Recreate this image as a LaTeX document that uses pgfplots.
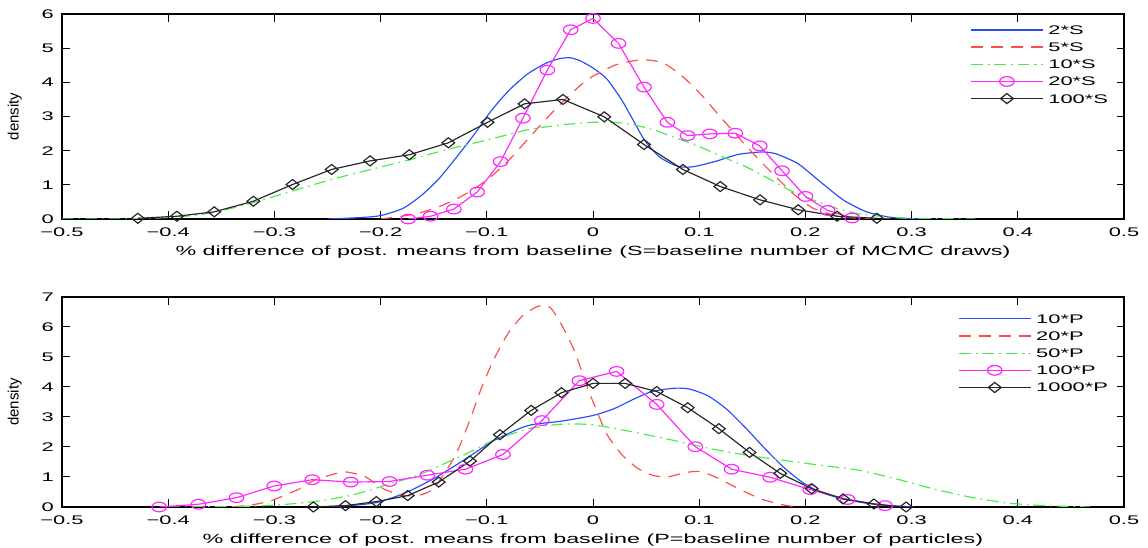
\documentclass[border=0pt]{standalone}
\usepackage{fontspec}
\setmainfont{Liberation Sans}[FakeStretch=1.75]
\newfontfamily\ylfont{Liberation Sans}
\usepackage{pgfplots}
\pgfplotsset{compat=1.18}
\definecolor{cblue}{rgb}{0.15,0.3,1}
\definecolor{cred}{rgb}{1,0.3,0.3}
\definecolor{cgreen}{rgb}{0.3,0.92,0.3}
\definecolor{cmag}{rgb}{1,0.15,1}
\pgfplotsset{
  mystyle/.style={
    scale only axis, width=637.2pt,
    xmin=-0.5, xmax=0.5,
    xtick={-0.5,-0.4,-0.3,-0.2,-0.1,0,0.1,0.2,0.3,0.4,0.5},
    xticklabels={−0.5,−0.4,−0.3,−0.2,−0.1,0,0.1,0.2,0.3,0.4,0.5},
    tick align=inside, major tick length=4.5pt,
    axis line style={line width=0.9pt, black},
    every tick/.style={black, line width=0.6pt},
    tick label style={font=\fontsize{7.5}{8}\selectfont},
    every x tick label/.append style={anchor=center, yshift=-7.8pt},
    every y tick label/.append style={anchor=center, xshift=-8.6pt},
    every axis x label/.style={at={(axis description cs:0.5,0)}, anchor=center, yshift=-19.8pt, font=\fontsize{8}{9}\selectfont},
    every axis y label/.style={at={(axis description cs:-0.0445,0.5)}, rotate=90, anchor=center, font=\ylfont\fontsize{9}{10}\selectfont},
    ylabel={density},
    legend style={draw=none, fill=none, anchor=north east, font=\fontsize{7.5}{9}\selectfont, row sep=3.4pt, inner sep=0pt,
      nodes={inner sep=0.5pt, text height=5.6pt, text depth=0.3pt},
      /tikz/every odd column/.append style={column sep=2.5pt}},
    legend cell align=left,
    legend image code/.code={\draw[mark repeat=2,mark phase=2,line width=0.75pt,##1] plot coordinates {(0pt,0pt) (21.5pt,0pt) (43pt,0pt)};},
    every axis plot/.append style={line width=0.7pt},
  },
  s1/.style={color=cblue, solid},
  s2/.style={color=cred, dash pattern=on 7pt off 5pt},
  s3/.style={color=cgreen, dash pattern=on 7pt off 3pt on 1pt off 3pt},
  s4/.style={color=cmag, solid, mark=o, mark size=2.9pt, mark options={solid, xscale=1.5}},
  s5/.style={color=black!85, solid, mark=diamond, mark size=3pt, mark options={solid, xscale=1.7}},
}
\begin{document}
\begin{tikzpicture}
\begin{axis}[mystyle, at={(0,172.8pt)}, height=123pt, ymin=0, ymax=6,
  ytick={0,1,2,3,4,5,6}, yticklabels={0,1,2,3,4,5,6},
  legend style={at={(0.986,0.952)}},
  xlabel={\% difference of post. means from baseline (S=baseline number of MCMC draws)}]
\addplot[s1, smooth, tension=0.4] coordinates {(-0.25,0) (-0.22,0.04) (-0.2,0.1) (-0.179,0.31) (-0.162,0.68) (-0.1456,1.16) (-0.129,1.79) (-0.112,2.47) (-0.0953,3.19) (-0.0786,3.78) (-0.0618,4.24) (-0.045,4.55) (-0.032,4.69) (-0.0216,4.72) (-0.012,4.63) (0,4.42) (0.013,4.1) (0.0275,3.46) (0.038,2.88) (0.0487,2.30) (0.0628,1.81) (0.080,1.54) (0.0945,1.53) (0.1157,1.69) (0.1368,1.89) (0.158,1.96) (0.172,1.91) (0.193,1.62) (0.214,1.09) (0.2355,0.56) (0.2567,0.22) (0.278,0.06) (0.299,0.01) (0.32,0)};
\addlegendentry{2*S}
\addplot[s2, smooth, tension=0.4] coordinates {(-0.2,0) (-0.18,0.08) (-0.162,0.19) (-0.145,0.36) (-0.129,0.58) (-0.112,0.88) (-0.0953,1.26) (-0.0786,1.74) (-0.0618,2.32) (-0.045,2.90) (-0.0283,3.44) (-0.0116,3.92) (0,4.18) (0.0205,4.5) (0.038,4.63) (0.0487,4.66) (0.066,4.57) (0.084,4.18) (0.1016,3.65) (0.119,3.02) (0.137,2.39) (0.154,1.81) (0.172,1.24) (0.19,0.70) (0.207,0.32) (0.2285,0.10) (0.25,0.02) (0.28,0)};
\addlegendentry{5*S}
\addplot[s3, smooth, tension=0.4] coordinates {(-0.5,0) (-0.45,0.0) (-0.42,0.02) (-0.39,0.06) (-0.357,0.19) (-0.32,0.48) (-0.283,0.82) (-0.246,1.16) (-0.209,1.45) (-0.172,1.74) (-0.1355,2.05) (-0.0987,2.32) (-0.0618,2.61) (-0.028,2.76) (0,2.83) (0.02,2.83) (0.038,2.76) (0.059,2.59) (0.080,2.35) (0.1016,2.10) (0.1227,1.81) (0.144,1.53) (0.165,1.19) (0.186,0.83) (0.207,0.56) (0.2285,0.32) (0.25,0.15) (0.271,0.08) (0.292,0.03) (0.32,0.01) (0.36,0)};
\addlegendentry{10*S}
\addplot[s4] coordinates {(-0.174,0) (-0.153,0.08) (-0.131,0.29) (-0.109,0.79) (-0.087,1.68) (-0.066,2.95) (-0.043,4.36) (-0.021,5.54) (0,5.87) (0.024,5.14) (0.048,3.86) (0.070,2.83) (0.089,2.44) (0.110,2.49) (0.134,2.51) (0.157,2.14) (0.178,1.41) (0.200,0.66) (0.221,0.25) (0.244,0.03)};
\addlegendentry{20*S}
\addplot[s5] coordinates {(-0.4286,0.02) (-0.3918,0.08) (-0.3566,0.21) (-0.3198,0.52) (-0.2829,1.01) (-0.2461,1.45) (-0.2099,1.70) (-0.1730,1.88) (-0.1362,2.23) (-0.0993,2.83) (-0.0645,3.37) (-0.0283,3.50) (0.0106,2.99) (0.048,2.18) (0.0846,1.45) (0.1199,0.95) (0.1573,0.56) (0.1932,0.27) (0.2299,0.08) (0.2673,0.02)};
\addlegendentry{100*S}
\end{axis}
\begin{axis}[mystyle, at={(0,0)}, height=126pt, ymin=0, ymax=7,
  ytick={0,1,2,3,4,5,6,7}, yticklabels={0,1,2,3,4,5,6,7},
  legend style={at={(0.986,0.925)}},
  xlabel={\% difference of post. means from baseline (P=baseline number of particles)}]
\addplot[s1, smooth, tension=0.4] coordinates {(-0.26,0) (-0.229,0.045) (-0.2023,0.16) (-0.1755,0.49) (-0.1487,0.97) (-0.1218,1.56) (-0.095,2.18) (-0.0682,2.63) (-0.055,2.76) (-0.03,2.86) (0,3.05) (0.02,3.28) (0.038,3.59) (0.0557,3.85) (0.0769,3.96) (0.091,3.93) (0.1086,3.70) (0.1262,3.25) (0.1439,2.63) (0.1615,1.96) (0.179,1.34) (0.1968,0.83) (0.2144,0.49) (0.2355,0.27) (0.2567,0.13) (0.278,0.045) (0.3025,0)};
\addlegendentry{10*P}
\addplot[s2, smooth, tension=0.4] coordinates {(-0.34,0) (-0.32,0.08) (-0.303,0.21) (-0.276,0.61) (-0.2627,0.89) (-0.2425,1.11) (-0.233,1.17) (-0.215,1.02) (-0.197,0.6) (-0.18,0.4) (-0.165,0.38) (-0.15,0.62) (-0.13,1.69) (-0.117,2.8) (-0.1045,4.02) (-0.092,5.02) (-0.0797,5.8) (-0.067,6.35) (-0.055,6.64) (-0.048,6.72) (-0.04,6.64) (-0.030,6.1) (-0.0175,5.2) (-0.005,3.95) (0.0077,2.85) (0.0134,2.4) (0.027,1.75) (0.0416,1.30) (0.0557,1.06) (0.0698,1.00) (0.0874,1.15) (0.1016,1.18) (0.119,0.94) (0.137,0.61) (0.158,0.27) (0.179,0.07) (0.193,0)};
\addlegendentry{20*P}
\addplot[s3, smooth, tension=0.4] coordinates {(-0.40,0) (-0.33,0.02) (-0.296,0.07) (-0.263,0.18) (-0.229,0.38) (-0.1956,0.72) (-0.162,1.1) (-0.129,1.62) (-0.112,1.9) (-0.095,2.2) (-0.0618,2.6) (-0.03,2.76) (0,2.74) (0.038,2.5) (0.0733,2.24) (0.1086,1.96) (0.144,1.73) (0.179,1.56) (0.2144,1.39) (0.25,1.23) (0.285,0.94) (0.32,0.61) (0.355,0.33) (0.391,0.13) (0.426,0.045) (0.468,0)};
\addlegendentry{50*P}
\addplot[s4] coordinates {(-0.4085,0) (-0.3716,0.09) (-0.3357,0.31) (-0.3002,0.70) (-0.2643,0.91) (-0.2281,0.83) (-0.1916,0.85) (-0.156,1.06) (-0.1201,1.26) (-0.0848,1.75) (-0.0481,2.88) (-0.0129,4.21) (0.0222,4.52) (0.06,3.42) (0.0963,2.01) (0.1305,1.26) (0.1668,0.99) (0.2045,0.58) (0.2398,0.25) (0.275,0.045)};
\addlegendentry{100*P}
\addplot[s5] coordinates {(-0.2633,0) (-0.2331,0.045) (-0.204,0.18) (-0.1745,0.38) (-0.1453,0.83) (-0.1158,1.53) (-0.0877,2.41) (-0.0582,3.22) (-0.0297,3.81) (0.0,4.12) (0.0303,4.12) (0.06,3.85) (0.0892,3.31) (0.1185,2.61) (0.1474,1.82) (0.1763,1.12) (0.2059,0.61) (0.2355,0.27) (0.2645,0.10) (0.2948,0)};
\addlegendentry{1000*P}
\end{axis}
\pgfresetboundingbox
\useasboundingbox (-37.2pt,-24.6pt) rectangle (651.6pt,304.2pt);
\end{tikzpicture}
\end{document}
